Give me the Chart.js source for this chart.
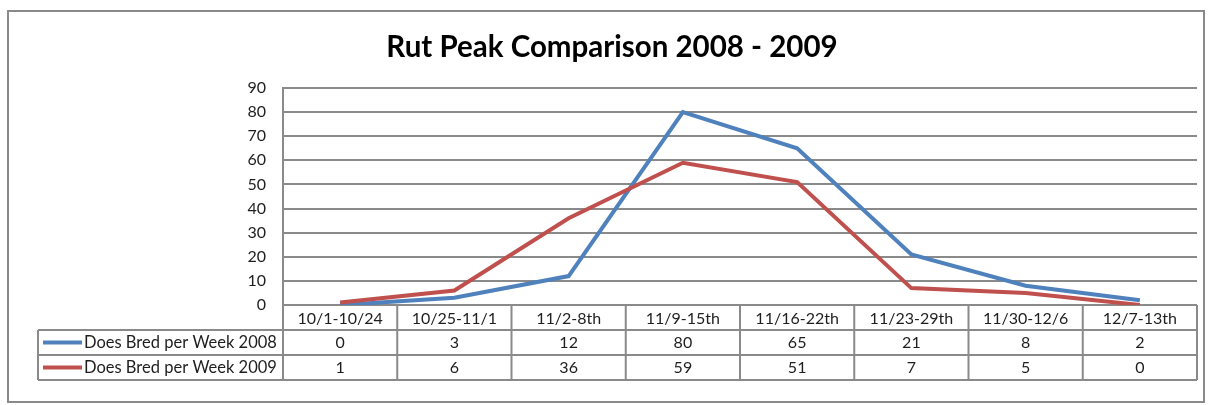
<!DOCTYPE html>
<html>
<head>
<meta charset="utf-8">
<title>Rut Peak Comparison 2008 - 2009</title>
<script src="https://cdn.jsdelivr.net/npm/chart.js@4.4.1/dist/chart.umd.min.js"></script>
<style>
  html, body { margin: 0; padding: 0; background: #fff; }
  #wrap { width: 1212px; height: 405px; }
</style>
</head>
<body>
<div id="wrap"><canvas id="myChart" width="1212" height="405"></canvas></div>
<script>
var chartTitle = 'Rut Peak Comparison 2008 - 2009';
var weeks = ['10/1-10/24', '10/25-11/1', '11/2-8th', '11/9-15th', '11/16-22th', '11/23-29th', '11/30-12/6', '12/7-13th'];
var seriesNames = ['Does Bred per Week 2008', 'Does Bred per Week 2009'];
var bred2008 = [0, 3, 12, 80, 65, 21, 8, 2];
var bred2009 = [1, 6, 36, 59, 51, 7, 5, 0];

var BLUE = '#4f81bd';
var RED = '#c0504d';
var GRID = '#8a8a8a';
var TEXT = '#1e1e1e';
var FONT = 'Lato';

// frame, title and the data table under the plot
var tablePlugin = {
  id: 'tablePlugin',
  beforeDraw: function(chart) {
    var ctx = chart.ctx;
    ctx.save();
    ctx.fillStyle = '#fff';
    ctx.fillRect(0, 0, chart.width, chart.height);
    ctx.strokeStyle = '#8a8a8a';
    ctx.lineWidth = 2;
    ctx.strokeRect(8, 11, 1196, 391);
    ctx.fillStyle = '#000';
    ctx.font = 'bold 29.5px ' + FONT;
    ctx.textAlign = 'center';
    ctx.textBaseline = 'middle';
    ctx.fillText(chartTitle, 612, 47);
    ctx.restore();
  },
  afterDraw: function(chart) {
    var ctx = chart.ctx;
    var area = chart.chartArea;
    var xs = chart.scales.x;
    var rowH = 25;
    var top = area.bottom;
    var legendLeft = 38;
    var series = [bred2008, bred2009];
    var colors = [BLUE, RED];
    ctx.save();
    ctx.strokeStyle = GRID;
    ctx.lineWidth = 2;
    ctx.beginPath();
    // horizontal lines
    for (var r = 1; r <= 3; r++) {
      ctx.moveTo(legendLeft, top + r * rowH);
      ctx.lineTo(area.right, top + r * rowH);
    }
    // vertical lines
    ctx.moveTo(legendLeft, top + rowH);
    ctx.lineTo(legendLeft, top + 3 * rowH);
    ctx.moveTo(area.left, top);
    ctx.lineTo(area.left, top + 3 * rowH);
    for (var i = 1; i < weeks.length; i++) {
      var bx = (xs.getPixelForValue(i - 1) + xs.getPixelForValue(i)) / 2;
      ctx.moveTo(bx, top);
      ctx.lineTo(bx, top + 3 * rowH);
    }
    ctx.moveTo(area.right, top);
    ctx.lineTo(area.right, top + 3 * rowH);
    ctx.stroke();

    ctx.textBaseline = 'middle';
    for (var s = 0; s < series.length; s++) {
      var cy = top + (s + 1.5) * rowH;
      ctx.strokeStyle = colors[s];
      ctx.lineWidth = 4;
      ctx.beginPath();
      ctx.moveTo(43, cy);
      ctx.lineTo(82, cy);
      ctx.stroke();
      ctx.fillStyle = TEXT;
      ctx.textAlign = 'left';
      ctx.font = '16.5px ' + FONT;
      ctx.fillText(seriesNames[s], 84, cy);
      ctx.textAlign = 'center';
      ctx.font = '16px ' + FONT;
      for (var j = 0; j < weeks.length; j++) {
        ctx.fillText(String(series[s][j]), xs.getPixelForValue(j), cy);
      }
    }
    ctx.restore();
  }
};

var ctx = document.getElementById('myChart').getContext('2d');
var myChart = new Chart(ctx, {
  type: 'line',
  data: {
    labels: weeks,
    datasets: [{
      label: seriesNames[0],
      data: bred2008,
      borderColor: BLUE,
      backgroundColor: BLUE,
      borderWidth: 4,
      pointRadius: 0,
      tension: 0,
      order: 1
    }, {
      label: seriesNames[1],
      data: bred2009,
      borderColor: RED,
      backgroundColor: RED,
      borderWidth: 4,
      pointRadius: 0,
      tension: 0,
      order: 0
    }]
  },
  options: {
    responsive: false,
    animation: false,
    layout: { padding: { left: 0, right: 15, top: 88, bottom: 75 } },
    plugins: {
      legend: { display: false },
      title: { display: false },
      tooltip: { enabled: false }
    },
    scales: {
      x: {
        offset: true,
        grid: { display: false },
        border: { display: false },
        ticks: { color: TEXT, font: { family: FONT, size: 16 }, padding: -4, maxRotation: 0, autoSkip: false },
        afterFit: function(scale) { scale.height = 25; }
      },
      y: {
        min: 0,
        max: 90,
        grid: { color: GRID, lineWidth: 2, drawTicks: false },
        border: { display: true, color: GRID, width: 2 },
        ticks: { stepSize: 10, color: TEXT, font: { family: FONT, size: 16 }, padding: 17 },
        afterFit: function(scale) { scale.width = 283; }
      }
    }
  },
  plugins: [tablePlugin]
});
</script>
</body>
</html>
